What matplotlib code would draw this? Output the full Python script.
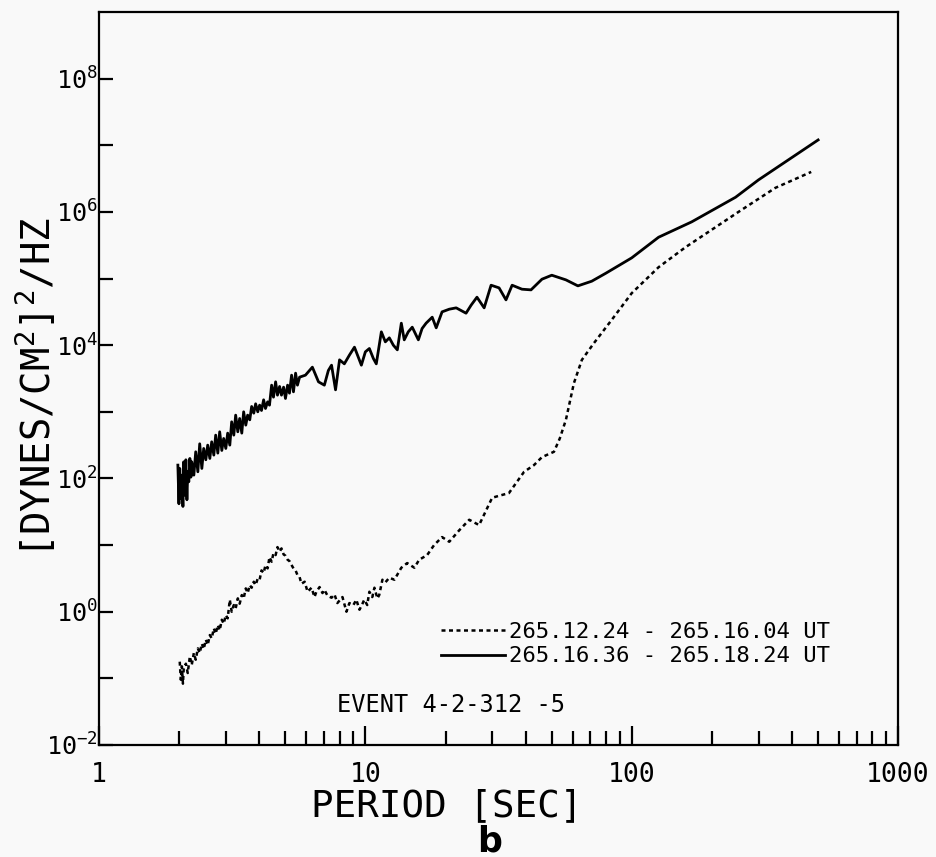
import numpy as np
import matplotlib
matplotlib.use('Agg')
import matplotlib.pyplot as plt
from matplotlib.ticker import FixedLocator, NullFormatter, FixedFormatter
from matplotlib.lines import Line2D

# narrow plotter-like lettering
plt.rcParams['font.family'] = ['DejaVu Sans Mono', 'DejaVu Sans']

# values, in log10 units (log period [s], log PSD)
log_period_solid = [
    0.296, 0.300, 0.303, 0.307, 0.311, 0.315, 0.318, 0.322, 0.326, 0.330,
    0.333, 0.337, 0.341, 0.345, 0.348, 0.356, 0.363, 0.371, 0.378, 0.386,
    0.393, 0.401, 0.408, 0.416, 0.423, 0.431, 0.438, 0.446, 0.453, 0.461,
    0.468, 0.476, 0.483, 0.491, 0.498, 0.506, 0.513, 0.521, 0.528, 0.536,
    0.543, 0.551, 0.558, 0.566, 0.573, 0.581, 0.588, 0.596, 0.603, 0.610,
    0.618, 0.625, 0.633, 0.640, 0.648, 0.655, 0.663, 0.670, 0.678, 0.685,
    0.693, 0.700, 0.708, 0.715, 0.723, 0.730, 0.738, 0.745, 0.753, 0.775,
    0.801, 0.824, 0.846, 0.861, 0.873, 0.888, 0.903, 0.921, 0.940, 0.959,
    0.985, 1.000, 1.015, 1.030, 1.041, 1.060, 1.075, 1.090, 1.105, 1.120,
    1.135, 1.146, 1.161, 1.176, 1.199, 1.213, 1.228, 1.251, 1.266, 1.288,
    1.315, 1.341, 1.378, 1.397, 1.419, 1.446, 1.472, 1.502, 1.528, 1.551,
    1.588, 1.622, 1.663, 1.700, 1.753, 1.798, 1.850, 1.903, 2.000, 2.101,
    2.225, 2.390, 2.476, 2.588, 2.700,
]
log_psd_solid = [
    2.20, 1.62, 2.15, 1.70, 2.05, 1.58, 2.25, 1.75, 2.28, 1.68,
    2.10, 1.95, 2.30, 2.02, 2.25, 2.05, 2.40, 2.10, 2.52, 2.15,
    2.45, 2.28, 2.50, 2.30, 2.55, 2.35, 2.65, 2.38, 2.70, 2.42,
    2.60, 2.45, 2.68, 2.50, 2.85, 2.65, 2.95, 2.70, 2.90, 2.68,
    3.00, 2.80, 2.95, 2.88, 3.08, 2.98, 3.12, 3.00, 3.10, 3.02,
    3.18, 3.05, 3.15, 3.10, 3.40, 3.22, 3.45, 3.25, 3.38, 3.25,
    3.37, 3.20, 3.40, 3.28, 3.55, 3.30, 3.58, 3.40, 3.52, 3.55,
    3.67, 3.45, 3.40, 3.62, 3.70, 3.33, 3.78, 3.72, 3.85, 3.97,
    3.70, 3.90, 3.95, 3.80, 3.72, 4.20, 4.05, 4.11, 4.00, 3.93,
    4.33, 4.08, 4.20, 4.27, 4.08, 4.25, 4.33, 4.42, 4.26, 4.50,
    4.54, 4.56, 4.48, 4.60, 4.72, 4.56, 4.90, 4.86, 4.68, 4.90,
    4.84, 4.83, 4.99, 5.05, 4.98, 4.89, 4.96, 5.08, 5.31, 5.62,
    5.85, 6.22, 6.48, 6.78, 7.08,
]

log_period_dotted = [
    0.303, 0.307, 0.311, 0.315, 0.318, 0.326, 0.333, 0.341, 0.348, 0.356,
    0.363, 0.371, 0.378, 0.386, 0.393, 0.401, 0.408, 0.416, 0.423, 0.431,
    0.438, 0.446, 0.453, 0.461, 0.468, 0.476, 0.483, 0.491, 0.498, 0.506,
    0.513, 0.521, 0.528, 0.536, 0.543, 0.551, 0.558, 0.566, 0.573, 0.581,
    0.588, 0.596, 0.603, 0.610, 0.618, 0.625, 0.633, 0.640, 0.648, 0.655,
    0.663, 0.670, 0.678, 0.685, 0.693, 0.700, 0.708, 0.715, 0.723, 0.730,
    0.738, 0.745, 0.753, 0.760, 0.772, 0.783, 0.798, 0.809, 0.816, 0.828,
    0.839, 0.846, 0.858, 0.873, 0.884, 0.895, 0.914, 0.929, 0.940, 0.955,
    0.966, 0.978, 0.989, 0.996, 1.007, 1.015, 1.026, 1.034, 1.045, 1.052,
    1.064, 1.075, 1.090, 1.109, 1.135, 1.157, 1.184, 1.202, 1.232, 1.258,
    1.288, 1.315, 1.352, 1.390, 1.427, 1.476, 1.502, 1.539, 1.596, 1.633,
    1.663, 1.708, 1.730, 1.753, 1.783, 1.813, 1.858, 1.925, 2.000, 2.101,
    2.202, 2.401, 2.539, 2.674,
]
log_psd_dotted = [
    -0.75, -1.02, -0.82, -1.08, -0.85, -0.78, -0.92, -0.67, -0.80, -0.62,
    -0.72, -0.55, -0.62, -0.48, -0.56, -0.42, -0.50, -0.35, -0.40, -0.25,
    -0.33, -0.20, -0.28, -0.12, -0.18, -0.05, -0.10, 0.18, 0.00, 0.10,
    0.05, 0.20, 0.12, 0.25, 0.20, 0.35, 0.28, 0.40, 0.36, 0.45,
    0.40, 0.50, 0.48, 0.62, 0.58, 0.70, 0.65, 0.82, 0.75, 0.88,
    0.85, 0.97, 0.90, 0.95, 0.86, 0.84, 0.78, 0.76, 0.70, 0.65,
    0.62, 0.55, 0.52, 0.42, 0.45, 0.30, 0.36, 0.22, 0.30, 0.37,
    0.28, 0.33, 0.24, 0.21, 0.26, 0.13, 0.22, 0.00, 0.13, 0.10,
    0.18, 0.03, 0.12, 0.18, 0.10, 0.30, 0.22, 0.36, 0.20, 0.25,
    0.48, 0.44, 0.51, 0.48, 0.66, 0.73, 0.66, 0.78, 0.85, 1.00,
    1.12, 1.05, 1.22, 1.38, 1.30, 1.71, 1.74, 1.78, 2.10, 2.20,
    2.32, 2.40, 2.60, 2.88, 3.43, 3.78, 4.03, 4.38, 4.78, 5.17,
    5.47, 6.00, 6.36, 6.60,
]

label_dotted = '265.12.24 - 265.16.04 UT'
label_solid = '265.16.36 - 265.18.24 UT'
event_text = 'EVENT 4-2-312 -5'

y_ticks = [1e-2, 1e-1, 1e0, 1e1, 1e2, 1e3, 1e4, 1e5, 1e6, 1e7, 1e8]
y_labels = [r'$\mathregular{10^{-2}}$', '', r'$\mathregular{10^{0}}$', '',
            r'$\mathregular{10^{2}}$', '', r'$\mathregular{10^{4}}$', '',
            r'$\mathregular{10^{6}}$', '', r'$\mathregular{10^{8}}$']
x_ticks = [1, 10, 100, 1000]
x_labels = ['1', '10', '100', '1000']

bg = '#f9f9f9'
fig = plt.figure(figsize=(9.37, 8.57), dpi=100, facecolor=bg)
ax = fig.add_axes([0.1057, 0.1307, 0.8527, 0.8553], facecolor=bg)

ax.plot(10 ** np.array(log_period_dotted), 10 ** np.array(log_psd_dotted),
        color='black', lw=1.8, ls=(0, (1.6, 1.4)))
ax.plot(10 ** np.array(log_period_solid), 10 ** np.array(log_psd_solid),
        color='black', lw=2.0)

ax.set_xscale('log')
ax.set_yscale('log')
ax.set_xlim(1, 1000)
ax.set_ylim(1e-2, 1e9)

for s in ax.spines.values():
    s.set_linewidth(1.6)

ax.yaxis.set_major_locator(FixedLocator(y_ticks))
ax.yaxis.set_major_formatter(FixedFormatter(y_labels))
ax.yaxis.set_minor_locator(FixedLocator([]))
ax.xaxis.set_major_locator(FixedLocator(x_ticks))
ax.xaxis.set_major_formatter(FixedFormatter(x_labels))
minor_x = [m * d for d in (1, 10, 100) for m in range(2, 10)]
ax.xaxis.set_minor_locator(FixedLocator(minor_x))
ax.xaxis.set_minor_formatter(NullFormatter())

ax.tick_params(axis='y', which='major', direction='in', length=10, width=1.6,
               labelsize=18, pad=1)
ax.tick_params(axis='x', which='major', direction='in', length=14, width=1.6,
               labelsize=19, pad=12)
ax.tick_params(axis='x', which='minor', direction='in', length=10, width=1.6)

handles = [Line2D([], [], color='black', lw=1.8, ls=(0, (1.6, 1.4))),
           Line2D([], [], color='black', lw=2.0)]
ax.legend(handles, [label_dotted, label_solid], loc='upper left',
          bbox_to_anchor=(0.428, 0.168), frameon=False, fontsize=16,
          handlelength=2.9, handletextpad=0.15, labelspacing=0.2,
          borderpad=0, borderaxespad=0)
ax.text(0.298, 0.055, event_text, transform=ax.transAxes, fontsize=17,
        va='center', ha='left')

fig.text(447 / 937, 1 - 806 / 857, 'PERIOD [SEC]', fontsize=27,
         ha='center', va='center')
fig.text(36 / 937, 1 - 388 / 857, r'[DYNES/CM$\mathregular{^2}$]$\mathregular{^2}$/HZ',
         fontsize=28, rotation=90, ha='center', va='center')
fig.text(490 / 937, 1 - 841 / 857, 'b', fontsize=25, fontweight='bold',
         ha='center', va='center', family='DejaVu Sans')

fig.savefig('out.png', dpi=100, facecolor=bg)
